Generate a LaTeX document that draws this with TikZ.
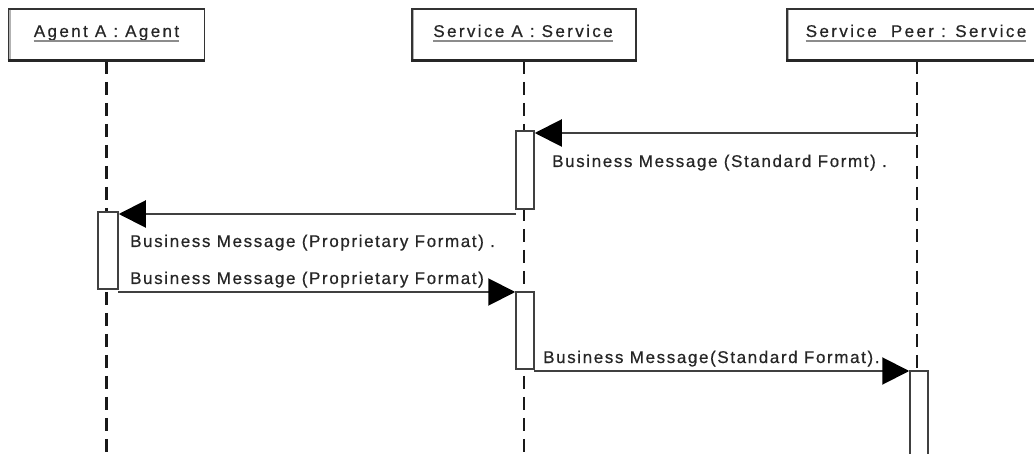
\documentclass[tikz,border=0pt]{standalone}
\usepackage{fontspec}
\setmainfont{Liberation Sans}
\newfontfamily\headfont{Liberation Sans}[LetterSpace=14,FakeBold=0.5]
\newfontfamily\seqfont{Liberation Sans}[LetterSpace=9.5,FakeBold=0.5]
\usetikzlibrary{arrows.meta}

\tikzset{
  objbox/.style={draw=black!80, line width=1.6pt, fill=white, minimum height=51pt, inner sep=0pt},
  objtext/.style={font=\headfont\fontsize{17}{19}\selectfont, inner sep=0pt, anchor=base, text=black!85},
  objline/.style={draw=black!45, line width=2pt},
  lifeline/.style={draw=black!90, line width=2.6pt, dash pattern=on 13pt off 8pt},
  actbox/.style={draw=black!75, line width=1.5pt, fill=white, inner sep=0pt},
  msg/.style={draw=black!75, line width=2pt, -{Triangle[length=27pt,width=27pt,color=black]}},
  msglabel/.style={font=\seqfont\fontsize{17}{19}\selectfont, anchor=base west, inner sep=0pt, text=black!85},
}

\begin{document}
\begin{tikzpicture}[x=1pt,y=-1pt]
  \clip (0,0) rectangle (1034,454);
  \fill[white] (0,0) rectangle (1034,454);

  % object headers
  \node[objbox, minimum width=196pt] (agent) at (106.5,34.5) {};
  \node[objbox, minimum width=224pt] (svcA) at (524,34.5) {};
  \node[objbox, minimum width=260pt] (peer) at (917,34.5) {};

  % lifeline ends
  \coordinate (agentEnd) at (106.5,460);
  \coordinate (svcAEnd) at (524,460);
  \coordinate (peerEnd) at (917,460);

  \draw[lifeline] (agent.south) -- (agentEnd);
  \draw[lifeline] (svcA.south) -- (svcAEnd);
  \draw[lifeline] (peer.south) -- (peerEnd);

  % header edges
  \foreach \o in {agent,svcA,peer}{
    \draw[black!85, line width=3.2pt] (\o.south west) -- (\o.south east);
    \draw[black!30, line width=1.4pt] ([xshift=2.4pt,yshift=-1.5pt]\o.north west) -- ([xshift=2.4pt,yshift=2pt]\o.south west);
  }

  \node[objtext] (agentT) at (106.5,37) {Agent A : Agent};
  \node[objtext] (svcAT) at (523,37) {Service A : Service};
  \node[objtext] (peerT) at (916,37) {Service\ \ Peer : Service};
  \foreach \t in {agentT,svcAT,peerT}{
    \draw[objline] ([yshift=-4pt]\t.base west) -- ([yshift=-4pt]\t.base east);
  }

  % activation bars
  \node[actbox, minimum width=18pt, minimum height=78pt] (actA1) at (525,170) {};
  \node[actbox, minimum width=20pt, minimum height=77pt] (actAg) at (108,250.5) {};
  \node[actbox, minimum width=18pt, minimum height=77pt] (actA2) at (525,330.5) {};
  \node[actbox, minimum width=18pt, minimum height=99pt] (actP) at (919,420.5) {};

  % message labels
  \node[msglabel] (l1) at (552,167) {Business Message (Standard Formt) .};
  \node[msglabel] (l2) at (130,247) {Business Message (Proprietary Format) .};
  \node[msglabel] (l3) at (130,284) {Business Message (Proprietary Format)};
  \node[msglabel] (l4) at (543,363) {Business Message(Standard Format).};

  % messages
  \coordinate (m1s) at (917,133);
  \coordinate (m2s) at (516,214);
  \coordinate (m3s) at (118,292);
  \coordinate (m4s) at (534,371);
  \draw[msg] (m1s) -- (m1s -| actA1.east);
  \draw[msg] (m2s) -- (m2s -| actAg.east);
  \draw[msg] (m3s) -- (m3s -| actA2.west);
  \draw[msg] (m4s) -- (m4s -| actP.west);
\end{tikzpicture}
\end{document}
